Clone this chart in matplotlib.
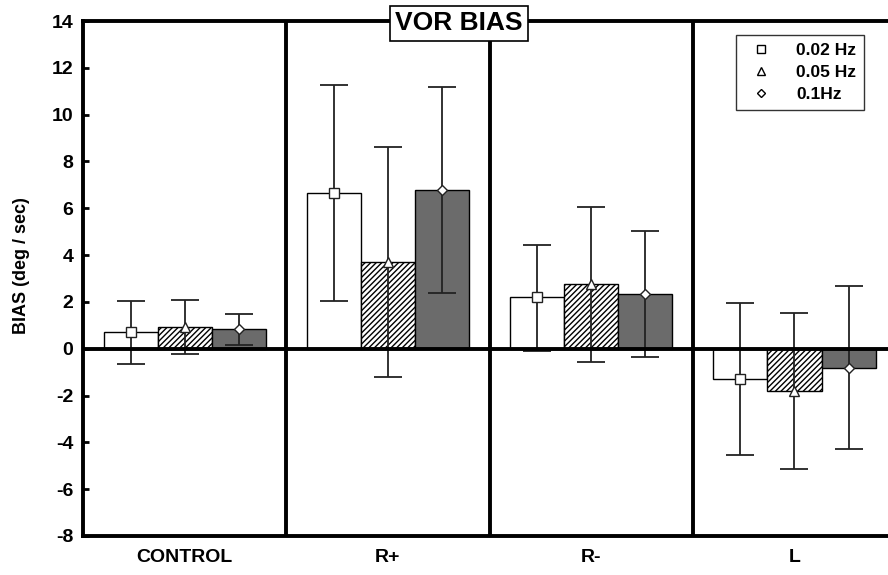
import matplotlib
matplotlib.use("Agg")
import matplotlib.pyplot as plt
import numpy as np
from matplotlib.lines import Line2D

plt.rcParams['font.family'] = ['Liberation Sans', 'DejaVu Sans']
plt.rcParams['font.weight'] = 'bold'
plt.rcParams['hatch.linewidth'] = 1.0

categories = ["CONTROL", "R+", "R-", "L"]
series_names = ["0.02 Hz", "0.05 Hz", "0.1Hz"]
means_002 = [0.70, 6.67, 2.20, -1.30]
means_005 = [0.92, 3.70, 2.75, -1.80]
means_01 = [0.85, 6.80, 2.35, -0.82]
upper_002 = [2.05, 11.25, 4.45, 1.97]
upper_005 = [2.10, 8.62, 6.05, 1.52]
upper_01 = [1.50, 11.20, 5.05, 2.70]
lower_002 = [-0.65, 2.02, -0.08, -4.55]
lower_005 = [-0.22, -1.20, -0.55, -5.12]
lower_01 = [0.15, 2.38, -0.35, -4.30]
yticks = [-8, -6, -4, -2, 0, 2, 4, 6, 8, 10, 12, 14]

fig = plt.figure(figsize=(8.88, 5.75), dpi=100)
ax = fig.add_axes([83/888, 39/575, (888-83)/888, 515/575])

x = np.arange(len(categories))
w = 0.266
means = [means_002, means_005, means_01]
uppers = [upper_002, upper_005, upper_01]
lowers = [lower_002, lower_005, lower_01]
faces = ['white', 'white', '#6b6b6b']
hatches = [None, '//////', None]
markers = ['s', '^', 'D']
msizes = [7, 6.5, 5.5]

for i in range(3):
    xs = x + (i - 1) * w
    m = np.array(means[i])
    ax.bar(xs, m, width=w, color=faces[i], edgecolor='black', linewidth=1.0,
           hatch=hatches[i], zorder=2)
    yerr = np.vstack([m - np.array(lowers[i]), np.array(uppers[i]) - m])
    ax.errorbar(xs, m, yerr=yerr, fmt='none', ecolor='#222222', elinewidth=1.3,
                capsize=10, capthick=1.3, zorder=3)
    ax.plot(xs, m, linestyle='none', marker=markers[i], markersize=msizes[i],
            markerfacecolor='white', markeredgecolor='#222222', markeredgewidth=1.0,
            zorder=4)

# zero line and group separators
ax.axhline(0, color='black', linewidth=2.8, zorder=5)
for b in [0.5, 1.5, 2.5]:
    ax.axvline(b, color='black', linewidth=2.8, zorder=5)

ax.set_xlim(-0.5, 3.46)
ax.set_ylim(-8, 14)
ax.set_yticks(yticks)
ax.set_yticklabels([str(t) for t in yticks], fontsize=14, fontweight='bold')
ax.tick_params(axis='y', direction='in', length=4, width=2, pad=7)
ax.set_xticks(x)
ax.set_xticklabels(categories, fontsize=14, fontweight='bold')
ax.tick_params(axis='x', length=0, pad=9)
ax.set_ylabel("BIAS (deg / sec)", fontsize=13, fontweight='bold')
ax.yaxis.set_label_coords(-0.066, 0.526)

for s in ['left', 'top', 'bottom']:
    ax.spines[s].set_linewidth(2.8)
ax.spines['right'].set_visible(False)

# title box
ax.text(1.35, 14 - 0.1, "VOR BIAS", fontsize=19, fontweight='bold', ha='center', va='center',
        transform=ax.transData, zorder=10,
        bbox=dict(boxstyle='square,pad=0.2', facecolor='white', edgecolor='black', linewidth=1.2))

# legend
handles = [Line2D([], [], linestyle='none', marker=markers[i], markersize=msizes[i] - 1,
                  markerfacecolor='white', markeredgecolor='black', markeredgewidth=1.0)
           for i in range(3)]
leg = ax.legend(handles, series_names, loc='upper right', bbox_to_anchor=(0.970, 0.973),
                frameon=True, fancybox=False, edgecolor='black',
                prop={'weight': 'bold', 'size': 12.5}, handletextpad=1.0, borderpad=0.45,
                labelspacing=0.4, borderaxespad=0)
leg.get_frame().set_linewidth(1.0)
leg.set_zorder(10)

fig.savefig("out.png", dpi=100)
